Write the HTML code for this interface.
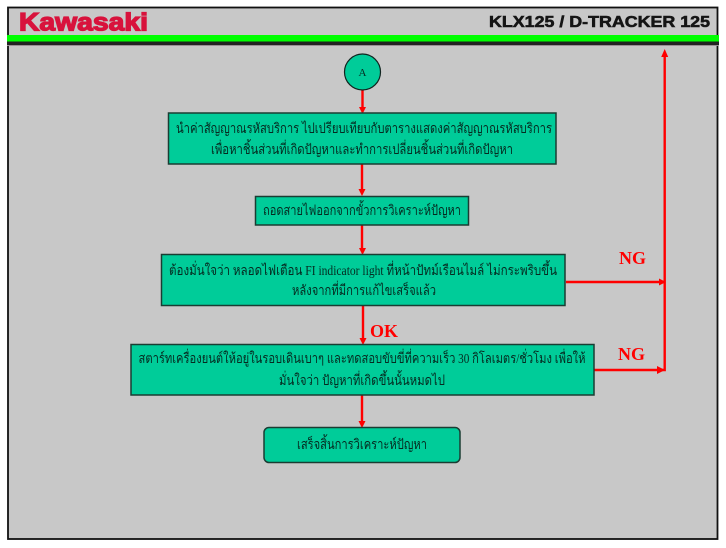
<!DOCTYPE html>
<html lang="th"><head><meta charset="utf-8">
<style>
html,body{margin:0;padding:0;background:#fff}
body{width:726px;height:548px;overflow:hidden;position:relative}
svg{position:absolute;left:0;top:0}
text{font-family:"Liberation Serif",serif}
.t{font-size:14px;fill:#052a20;text-anchor:middle}
.b{fill:#00cc99;stroke:#1a3d33;stroke-width:1.5}
.r{stroke:#ff0000;stroke-width:2.4;fill:none}
.a{fill:#ff0000}
.l{font-size:18px;font-weight:bold;fill:#ff0000}
</style></head><body>
<svg width="726" height="548" viewBox="0 0 726 548" xmlns="http://www.w3.org/2000/svg">
<rect x="8" y="7.500" width="709.500" height="531.500" fill="#c8c8c8" stroke="#111" stroke-width="1.800"/>
<rect x="7" y="35" width="712" height="6.500" fill="#00ff00"/>
<rect x="7" y="41.500" width="712" height="3.500" fill="#222"/>
<rect x="7" y="45" width="711" height="1" fill="#9a8f94"/>
<text x="19" y="30.500" font-size="25" font-weight="bold" style="font-family:'Liberation Sans',sans-serif;fill:#d8123c;stroke:#d8123c;stroke-width:1.300" textLength="129" lengthAdjust="spacingAndGlyphs">Kawasaki</text>
<text x="489" y="27" font-size="16" font-weight="bold" style="font-family:'Liberation Sans',sans-serif;fill:#151515;stroke:#151515;stroke-width:.6" textLength="221" lengthAdjust="spacingAndGlyphs">KLX125 / D-TRACKER 125</text>

<path class="r" d="M362.500 90V108M362 164V190M362 225V249M363 306V339M362 395V422"/>
<path class="a" d="M359 107h7l-3.500 7zM358.500 189h7l-3.500 7zM359 248h7l-3.500 7zM359.500 338h7l-3.500 7zM358.500 421h7l-3.500 7z"/>
<path class="r" d="M566 282H664M594 370H664.700V55"/>
<path class="a" d="M664.700 49l3.500 8h-7zM666 282l-7-3.500v7zM665 370l-8-4v8z"/>

<circle cx="362.500" cy="72" r="18" fill="#00cc99" stroke="#10241f" stroke-width="1.200"/>
<text x="362.500" y="76" font-size="11" style="fill:#052a20;text-anchor:middle">A</text>

<rect class="b" x="168.500" y="113" width="387.500" height="51"/>
<rect class="b" x="255.500" y="196.500" width="213" height="28.500"/>
<rect class="b" x="161.500" y="254.500" width="403.500" height="51"/>
<rect class="b" x="131" y="344.500" width="463" height="50.500"/>
<rect class="b" x="264" y="427.500" width="196" height="35" rx="5"/>

<text class="t" x="364" y="133" textLength="376" lengthAdjust="spacingAndGlyphs">นำค่าสัญญาณรหัสบริการ ไปเปรียบเทียบกับตารางแสดงค่าสัญญาณรหัสบริการ</text>
<text class="t" x="362" y="154" textLength="302" lengthAdjust="spacingAndGlyphs">เพื่อหาชิ้นส่วนที่เกิดปัญหาและทำการเปลี่ยนชิ้นส่วนที่เกิดปัญหา</text>
<text class="t" x="362" y="215" textLength="198" lengthAdjust="spacingAndGlyphs">ถอดสายไฟออกจากขั้วการวิเคราะห์ปัญหา</text>
<text class="t" x="363" y="275" textLength="388" lengthAdjust="spacingAndGlyphs">ต้องมั่นใจว่า หลอดไฟเตือน FI indicator light ที่หน้าปัทม์เรือนไมล์ ไม่กระพริบขึ้น</text>
<text class="t" x="364" y="295" textLength="144" lengthAdjust="spacingAndGlyphs">หลังจากที่มีการแก้ไขเสร็จแล้ว</text>
<text class="t" x="362" y="363" textLength="447" lengthAdjust="spacingAndGlyphs">สตาร์ทเครื่องยนต์ให้อยู่ในรอบเดินเบาๆ และทดสอบขับขี่ที่ความเร็ว 30 กิโลเมตร/ชั่วโมง เพื่อให้</text>
<text class="t" x="362" y="385" textLength="166" lengthAdjust="spacingAndGlyphs">มั่นใจว่า ปัญหาที่เกิดขึ้นนั้นหมดไป</text>
<text class="t" x="362" y="449" textLength="130" lengthAdjust="spacingAndGlyphs">เสร็จสิ้นการวิเคราะห์ปัญหา</text>

<text class="l" x="370" y="337">OK</text>
<text class="l" x="619" y="264">NG</text>
<text class="l" x="618" y="360">NG</text>
</svg>
</body></html>
